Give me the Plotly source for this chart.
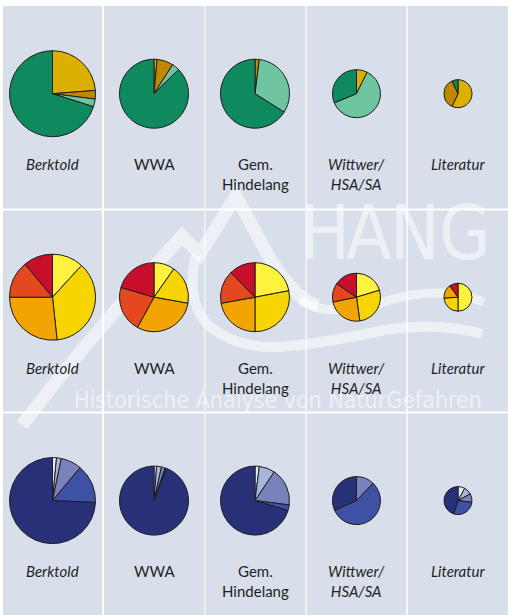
import plotly.graph_objects as go

W, H = 510, 615

# ---- data ----
sources = ["Berktold", "WWA", "Gem.<br>Hindelang", "Wittwer/<br>HSA/SA", "Literatur"]
label_italic = [True, False, False, True, True]

# Row 1 (green group)
r1_names = ["gelb", "ocker", "hellgrün", "grün"]
r1_gelb = [23.8, 1.4, 0.0, 7.3, 57.0]
r1_ocker = [3.2, 7.7, 2.0, 0.0, 36.0]
r1_hellgruen = [2.9, 3.5, 32.0, 61.5, 0.0]
r1_gruen = [70.1, 87.4, 66.0, 31.2, 7.0]

# Row 2 (yellow-red group)
r2_names = ["hellgelb", "gelb", "orange", "rotorange", "dunkelrot"]
r2_hellgelb = [11.8, 9.7, 22.0, 20.3, 50.0]
r2_gelb = [36.5, 18.1, 28.0, 27.5, 24.0]
r2_orange = [26.7, 30.1, 22.2, 24.0, 16.0]
r2_rotorange = [14.0, 21.6, 15.4, 12.7, 0.0]
r2_dunkelrot = [11.0, 20.4, 12.4, 15.5, 10.0]

# Row 3 (blue group)
r3_names = ["weiß", "hellblau", "schiefer", "mittelblau", "dunkelblau"]
r3_weiss = [1.5, 1.2, 2.0, 0.0, 8.0]
r3_hellblau = [1.8, 2.3, 7.4, 0.0, 9.0]
r3_schiefer = [7.8, 1.8, 17.6, 12.2, 10.0]
r3_mittelblau = [14.6, 0.5, 2.7, 56.2, 28.0]
r3_dunkelblau = [74.3, 94.2, 70.3, 31.6, 45.0]

# ---- styles / layout ----
r1_colors = ["#dcb000", "#c08800", "#6fc5a0", "#0f8a5e"]
r2_colors = ["#fff23e", "#f7d500", "#f2a400", "#e5481e", "#c70f2c"]
r3_colors = ["#e4e9f4", "#a8b5d9", "#7a82bc", "#3f51a4", "#283178"]

radii = [43, 34.5, 34.5, 24, 14]
col_centers = [52.5, 154, 255, 356.5, 458]
row_centers = [93.7, 297.2, 500.6]
label_tops = [153, 357, 560]
col_edges = [(3, 102), (104, 204.3), (205.3, 305.6), (306.7, 406.3), (407.7, 508)]
row_edges = [(6, 208.5), (210.5, 411.5), (413.5, 615)]
panel_bg = "#d8dfea"
wm = "rgba(255,255,255,0.55)"

rows = [
    (r1_names, [r1_gelb, r1_ocker, r1_hellgruen, r1_gruen], r1_colors),
    (r2_names, [r2_hellgelb, r2_gelb, r2_orange, r2_rotorange, r2_dunkelrot], r2_colors),
    (r3_names, [r3_weiss, r3_hellblau, r3_schiefer, r3_mittelblau, r3_dunkelblau], r3_colors),
]


def px(x):
    return x / W


def py(y):
    return 1 - y / H


fig = go.Figure()

for ri, (names, series, colors) in enumerate(rows):
    for ci, src in enumerate(sources):
        vals, labs, cols = [], [], []
        for n, s, c in zip(names, series, colors):
            if s[ci] > 0:
                vals.append(s[ci])
                labs.append(n)
                cols.append(c)
        r = radii[ci]
        cx, cy = col_centers[ci], row_centers[ri]
        fig.add_trace(go.Pie(
            values=vals, labels=labs, sort=False, direction="clockwise", rotation=0,
            marker=dict(colors=cols, line=dict(color="#1e1e1e", width=1)),
            textinfo="none", hoverinfo="label+percent", showlegend=False,
            domain=dict(x=[px(cx - r), px(cx + r)], y=[py(cy + r), py(cy - r)]),
        ))

shapes = []
for (y0, y1) in row_edges:
    for (x0, x1) in col_edges:
        shapes.append(dict(type="rect", xref="paper", yref="paper",
                           x0=px(x0), x1=px(x1), y0=py(y1), y1=py(y0),
                           fillcolor=panel_bg, line=dict(width=0), layer="below"))


def ppath(cmds):
    out = []
    for c in cmds:
        if isinstance(c, str):
            out.append(c)
        else:
            out.append("%.5f,%.5f" % (px(c[0]), py(c[1])))
    return " ".join(out)


wm_paths = [
    (["M", (22, 425), "Q", (95, 330), (182, 236), "L", (200, 254), "L", (236, 196),
      "L", (268, 255), "Q", (295, 300), (318, 306)], 13),
    (["M", (196, 255), "Q", (185, 300), (208, 325), "Q", (240, 352), (290, 346),
      "Q", (330, 342), (385, 330), "Q", (440, 322), (482, 334)], 10),
    (["M", (300, 300), "Q", (330, 320), (390, 300), "Q", (440, 285), (484, 302)], 9),
]
for cmds, w in wm_paths:
    shapes.append(dict(type="path", xref="paper", yref="paper", path=ppath(cmds),
                       line=dict(color=wm, width=w), layer="below"))

annotations = []
wm_font = "Liberation Sans Narrow, DejaVu Sans Condensed, Roboto, sans-serif"
for letter, x in zip(["H", "A", "N", "G"], [325, 369, 415, 465]):
    annotations.append(dict(text=letter, x=px(x), y=py(233), xref="paper", yref="paper",
                            showarrow=False, xanchor="center", yanchor="middle",
                            font=dict(family=wm_font, size=74, color=wm)))
annotations.append(dict(text="Historische Analyse von NaturGefahren", x=px(278), y=py(400),
                        xref="paper", yref="paper", showarrow=False,
                        xanchor="center", yanchor="middle",
                        font=dict(family=wm_font, size=23, color=wm)))

for ri in range(3):
    for ci, src in enumerate(sources):
        annotations.append(dict(
            text=src, x=px(col_centers[ci]), y=py(label_tops[ri]), xref="paper", yref="paper",
            showarrow=False, xanchor="center", yanchor="top", align="center",
            font=dict(family="Lato, Open Sans, sans-serif", size=15, color="#1f1f1f",
                      style="italic" if label_italic[ci] else "normal")))

fig.update_layout(
    width=W, height=H, margin=dict(l=0, r=0, t=0, b=0),
    paper_bgcolor="white", plot_bgcolor="white",
    shapes=shapes, annotations=annotations, showlegend=False,
)

fig.write_html("out.html")
